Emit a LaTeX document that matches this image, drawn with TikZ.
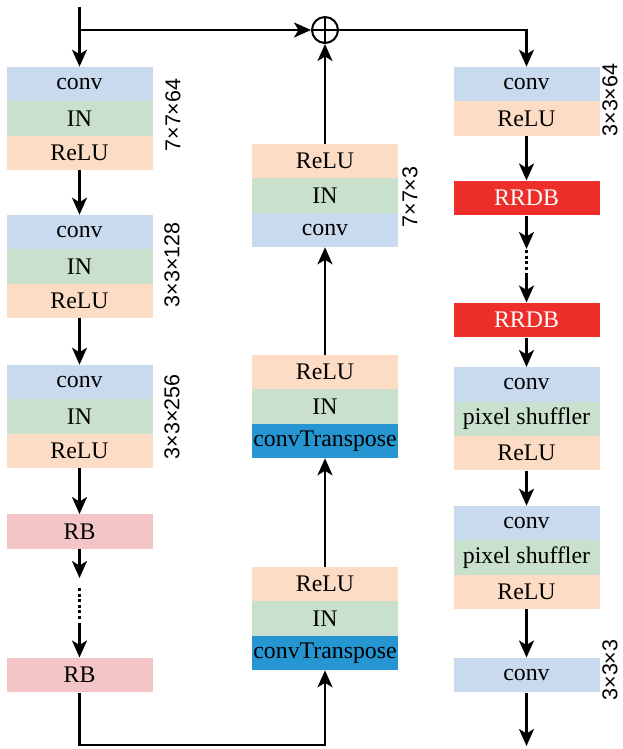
\documentclass[tikz,border=0pt]{standalone}
\usepackage{fontspec}
\setmainfont{Liberation Serif}
\newfontfamily\lblfont{Liberation Sans}
\usetikzlibrary{arrows.meta}
\definecolor{blueL}{RGB}{201,218,238}
\definecolor{greenL}{RGB}{200,224,204}
\definecolor{orangeL}{RGB}{252,220,196}
\definecolor{pinkRB}{RGB}{244,197,198}
\definecolor{redRRDB}{RGB}{238,46,42}
\definecolor{blueCT}{RGB}{37,150,209}
\tikzset{
  row/.style={minimum width=146pt, minimum height=34.6pt, inner sep=0pt, draw=none,
    font=\fontsize{23.8pt}{26pt}\selectfont},
  bconv/.style={row, fill=blueL},
  bin/.style={row, fill=greenL},
  brelu/.style={row, fill=orangeL},
  brb/.style={row, fill=pinkRB},
  brrdb/.style={row, fill=redRRDB, text=white},
  bct/.style={row, fill=blueCT},
  lbl/.style={rotate=90, font=\lblfont\fontsize{21.5pt}{24pt}\selectfont, inner sep=0pt},
  conn/.style={line width=2.4pt, -{Stealth[length=17pt, width=15pt, inset=4.5pt]}},
  dots/.style={line width=2.8pt, dash pattern=on 3pt off 2.6pt},
}
\begin{document}
\begin{tikzpicture}[x=1pt, y=-1pt]
\useasboundingbox (0,0) rectangle (622,749);
% left column
\node[bconv] (L1a) at (79.5,84.2) {conv};
\node[bin]   (L1b) at (79.5,118.5) {IN};
\node[brelu] (L1c) at (79.5,152.8) {ReLU};
\node[lbl] (t1) at (173,115) {7×7×64};
\node[bconv] (L2a) at (79.5,232.2) {conv};
\node[bin]   (L2b) at (79.5,266.5) {IN};
\node[brelu] (L2c) at (79.5,300.8) {ReLU};
\node[lbl] (t2) at (172,265) {3×3×128};
\node[bconv] (L3a) at (79.5,382.2) {conv};
\node[bin]   (L3b) at (79.5,416.5) {IN};
\node[brelu] (L3c) at (79.5,450.8) {ReLU};
\node[lbl] (t3) at (172,417) {3×3×256};
\node[brb] (RB1) at (79.5,531.5) {RB};
\node[brb] (RB2) at (79.5,675) {RB};
% middle column
\node[brelu] (M1a) at (325,161.2) {ReLU};
\node[bin]   (M1b) at (325,195.5) {IN};
\node[bconv] (M1c) at (325,229.8) {conv};
\node[lbl] (t4) at (410,197) {7×7×3};
\node[brelu] (M2a) at (325,372.2) {ReLU};
\node[bin]   (M2b) at (325,406.5) {IN};
\node[bct]   (M2c) at (325,440.8) {convTranspose};
\node[brelu] (M3a) at (325,584.2) {ReLU};
\node[bin]   (M3b) at (325,618.5) {IN};
\node[bct]   (M3c) at (325,652.8) {convTranspose};
% right column
\node[bconv] (R1a) at (526.5,84.2) {conv};
\node[brelu] (R1b) at (526.5,118.5) {ReLU};
\node[lbl] (t5) at (610,100) {3×3×64};
\node[brrdb] (D1) at (526.5,198) {RRDB};
\node[brrdb] (D2) at (526.5,320) {RRDB};
\node[bconv] (R2a) at (526.5,384.5) {conv};
\node[bin]   (R2b) at (526.5,418.8) {pixel shuffler};
\node[brelu] (R2c) at (526.5,453.1) {ReLU};
\node[bconv] (R3a) at (526.5,523.2) {conv};
\node[bin]   (R3b) at (526.5,557.5) {pixel shuffler};
\node[brelu] (R3c) at (526.5,591.8) {ReLU};
\node[bconv] (R4) at (526.5,675) {conv};
\node[lbl] (t6) at (610,670) {3×3×3};
% adder
\node[circle, draw, line width=2pt, minimum size=26pt, inner sep=0pt] (sum) at (325,30) {};
\draw[line width=2pt] (sum.north) -- (sum.south) (sum.west) -- (sum.east);
% coordinates
\coordinate (in) at (79.5,7);
\coordinate (split) at (79.5,30);
\coordinate (tr) at (526.5,30);
\coordinate (bl) at (79.5,745);
\coordinate (out) at (526.5,746);
\coordinate (d1a) at (79.5,578);
\coordinate (d1b) at (79.5,588);
\coordinate (d1c) at (79.5,619);
\coordinate (d1d) at (79.5,623);
\coordinate (d2a) at (526.5,249);
\coordinate (d2b) at (526.5,250);
\coordinate (d2c) at (526.5,271);
\coordinate (d2d) at (526.5,273);
% connectors
\draw[conn] (in) -- (L1a.north);
\draw[conn] (split) -- (sum.west);
\draw[conn] (sum.east) -- (tr) -- (R1a.north);
\draw[conn] (L1c.south) -- (L2a.north);
\draw[conn] (L2c.south) -- (L3a.north);
\draw[conn] (L3c.south) -- (RB1.north);
\draw[conn] (RB1.south) -- (d1a);
\draw[dots] (d1b) -- (d1c);
\draw[conn] (d1d) -- (RB2.north);
\draw[conn] (RB2.south) -- (bl) -| (M3c.south);
\draw[conn] (M3a.north) -- (M2c.south);
\draw[conn] (M2a.north) -- (M1c.south);
\draw[conn] (M1a.north) -- (sum.south);
\draw[conn] (R1b.south) -- (D1.north);
\draw[conn] (D1.south) -- (d2a);
\draw[dots] (d2b) -- (d2c);
\draw[conn] (d2d) -- (D2.north);
\draw[conn] (D2.south) -- (R2a.north);
\draw[conn] (R2c.south) -- (R3a.north);
\draw[conn] (R3c.south) -- (R4.north);
\draw[conn] (R4.south) -- (out);
\end{tikzpicture}
\end{document}
